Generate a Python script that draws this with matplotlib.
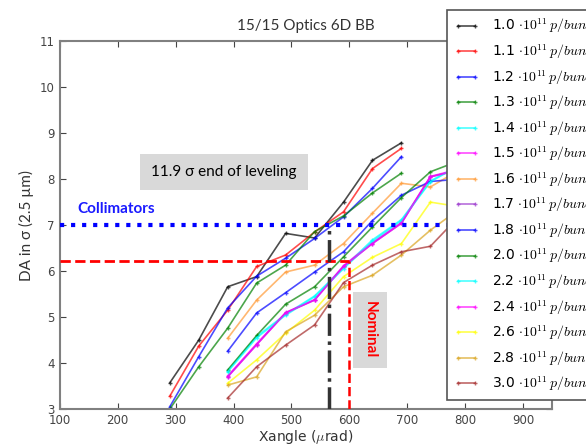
import numpy as np
import matplotlib
matplotlib.use("Agg")
import matplotlib.pyplot as plt

plt.rcParams['mathtext.fontset'] = 'cm'
plt.rcParams['font.family'] = ['DejaVu Sans']

# crossing angle scan points (urad)
x_low = [290, 340, 390, 440, 490, 540, 590, 640, 690]
x_high = [390, 440, 490, 540, 590, 640, 690, 740, 790]

# DA in sigma
da_10 = [3.57, 4.5, 5.66, 5.88, 6.82, 6.72, 7.5, 8.41, 8.79]
da_11 = [3.28, 4.37, 5.15, 6.1, 6.35, 6.85, 7.29, 8.23, 8.67]
da_12 = [3.05, 4.14, 5.2, 5.89, 6.28, 6.71, 7.18, 7.8, 8.49]
da_13 = [3.0, 3.92, 4.76, 5.74, 6.13, 6.86, 7.2, 7.7, 8.13]
da_14 = [3.83, 4.58, 5.06, 5.46, 6.08, 6.68, 7.12, 7.96, 8.3]
da_15 = [3.72, 4.42, 5.1, 5.38, 6.12, 6.62, 7.06, 8.06, 8.22]
da_16 = [4.54, 5.37, 5.98, 6.13, 6.6, 7.26, 7.91, 7.83, 8.2]
da_17 = [3.7, 4.4, 5.09, 5.37, 6.1, 6.6, 7.04, 8.05, 8.2]
da_18 = [4.26, 5.09, 5.53, 5.98, 6.42, 7.1, 7.65, 7.95, 8.0]
da_20 = [3.85, 4.6, 5.28, 5.66, 6.31, 6.96, 7.6, 8.16, 8.4]
da_22 = [3.81, 4.55, 5.04, 5.44, 6.05, 6.65, 7.1, 7.94, 8.3]
da_24 = [3.7, 4.4, 5.09, 5.37, 6.1, 6.6, 7.04, 8.05, 8.2]
da_26 = [3.56, 4.07, 4.65, 5.15, 5.88, 6.3, 6.6, 7.5, 7.4]
da_28 = [3.52, 3.7, 4.68, 5.04, 5.66, 5.91, 6.35, 6.89, 7.35]
da_30 = [3.24, 3.92, 4.39, 4.83, 5.75, 6.13, 6.42, 6.54, 7.2]

intensities = ['1.0', '1.1', '1.2', '1.3', '1.4', '1.5', '1.6', '1.7',
               '1.8', '2.0', '2.2', '2.4', '2.6', '2.8', '3.0']
series = [da_10, da_11, da_12, da_13, da_14, da_15, da_16, da_17,
          da_18, da_20, da_22, da_24, da_26, da_28, da_30]
xs = [x_low] * 4 + [x_high] * 11
colors = ['black', 'red', 'blue', 'green', 'cyan', 'magenta', '#ff9933',
          '#9933cc', 'blue', 'green', 'cyan', 'magenta', 'yellow',
          '#daa520', '#a52a2a']

fig = plt.figure(figsize=(5.86, 4.48), dpi=100)
ax = fig.add_axes([0.102, 0.087, 0.84, 0.821])

for x, y, c, lab in zip(xs, series, colors, intensities):
    ax.plot(x, y, color=c, alpha=0.7, lw=1.2, marker='+', ms=3.5, mew=1,
            label=lab + r' $\cdot 10^{11}\, p/bunch$')

# reference lines
ax.axhline(7.0, color='blue', ls=':', lw=3, zorder=3)
ax.plot([100, 600], [6.22, 6.22], color='red', ls='--', lw=2.0, zorder=3)
ax.plot([600, 600], [3, 6.22], color='red', ls='--', lw=1.8, zorder=3)
ax.plot([565, 565], [3, 7.0], color='#333333', ls='-.', lw=2.5, zorder=3)

ax.text(383, 8.15, u'11.9 \u03c3 end of leveling', fontsize=11, family='Lato',
        ha='center', va='center',
        bbox=dict(facecolor='#d9d9d9', edgecolor='none', pad=8))
ax.text(130, 7.35, 'Collimators', fontsize=11, family='Lato', weight='bold',
        color='#1a1aff', ha='left', va='center')
ax.text(636, 4.72, 'Nominal', fontsize=11, family='Lato', weight='bold',
        color='red', rotation=-90, ha='center', va='center',
        bbox=dict(facecolor='#d9d9d9', edgecolor='none', pad=7))

ax.set_xlim(100, 950)
ax.set_ylim(3, 11)
ax.set_xticks(np.arange(100, 1000, 100))
ax.set_yticks(np.arange(3, 12, 1))
ax.tick_params(direction='in', top=True, right=True, labelsize=8.5,
               colors='#444444', length=4)
for s in ax.spines.values():
    s.set_color('#808080')
    s.set_linewidth(1.5)

ax.set_xlabel(r'Xangle ($\mu$rad)', fontsize=10, color='#333333', labelpad=1)
ax.set_ylabel(u'DA in \u03c3 (2.5 \u00b5m)', fontsize=11, family='Lato',
              color='#333333')
ax.set_title('15/15 Optics 6D BB', fontsize=11, family='Lato', color='#333333',
             pad=8)

leg = ax.legend(loc='upper left', bbox_to_anchor=(0.763, 0.978),
                bbox_transform=fig.transFigure, fontsize=10, numpoints=2,
                handlelength=1.8, handletextpad=0.9, labelspacing=0.5,
                fancybox=False, framealpha=1, borderpad=0.5, borderaxespad=0)
leg.get_frame().set_edgecolor('#555555')
leg.get_frame().set_linewidth(1.2)

fig.savefig('out.png', dpi=100)
